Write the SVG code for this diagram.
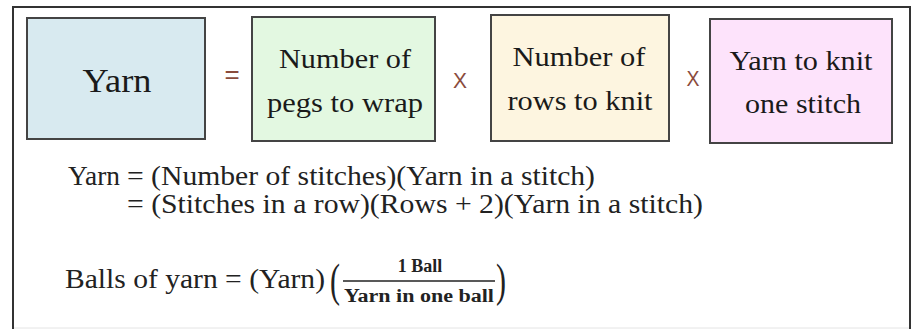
<svg xmlns="http://www.w3.org/2000/svg" width="913" height="329" viewBox="0 0 913 329">
<style>
.box{stroke:#444;stroke-width:2}
.bt{font-family:"Liberation Serif",serif;font-size:28px;fill:#1a1a1a;text-anchor:middle}
.op{font-family:"Liberation Sans",sans-serif;fill:#8a4b3c;text-anchor:middle}
.eq{font-family:"Liberation Serif",serif;font-size:27px;fill:#222}
.par{font-family:"Liberation Serif",serif;font-size:46px;fill:#222}
.fr{font-family:"Liberation Serif",serif;font-size:18px;font-weight:bold;fill:#222;text-anchor:middle}
</style>
<rect x="0" y="0" width="913" height="329" fill="#fff"/>
<g id="frame">
<path d="M13,329 V7 H910 V329" fill="none" stroke="#333" stroke-width="2"/>
<line x1="14" y1="328" x2="909" y2="328" stroke="#e4e4e4" stroke-width="1"/>
</g>
<g id="yarn">
<rect class="box" x="27" y="18" width="178" height="121" fill="#d8eaf0"/>
<text class="bt" x="117" y="92" style="font-size:34px" textLength="69" lengthAdjust="spacingAndGlyphs">Yarn</text>
</g>
<g id="pegs">
<rect class="box" x="252" y="17" width="183" height="124" fill="#e3f8e1"/>
<text class="bt" x="345" y="68" textLength="132" lengthAdjust="spacingAndGlyphs">Number of</text>
<text class="bt" x="345" y="112" textLength="156" lengthAdjust="spacingAndGlyphs">pegs to wrap</text>
</g>
<g id="rows">
<rect class="box" x="491" y="15" width="178" height="126" fill="#fdf5e0"/>
<text class="bt" x="579" y="66" textLength="133" lengthAdjust="spacingAndGlyphs">Number of</text>
<text class="bt" x="580" y="110" textLength="145" lengthAdjust="spacingAndGlyphs">rows to knit</text>
</g>
<g id="stitch">
<rect class="box" x="710" y="19" width="182" height="124" fill="#fde3fb"/>
<text class="bt" x="801" y="70" textLength="143" lengthAdjust="spacingAndGlyphs">Yarn to knit</text>
<text class="bt" x="803" y="113" textLength="116" lengthAdjust="spacingAndGlyphs">one stitch</text>
</g>
<g id="operators">
<text class="op" x="232" y="83" font-size="26">=</text>
<text class="op" x="460" y="88" font-size="22" textLength="14" lengthAdjust="spacingAndGlyphs">X</text>
<text class="op" x="693" y="86" font-size="22" textLength="13" lengthAdjust="spacingAndGlyphs">X</text>
</g>
<g id="equations">
<text class="eq" x="68" y="185" textLength="52" lengthAdjust="spacingAndGlyphs">Yarn</text>
<text class="eq" x="127" y="185" textLength="468" lengthAdjust="spacingAndGlyphs">= (Number of stitches)(Yarn in a stitch)</text>
<text class="eq" x="127" y="213" textLength="576" lengthAdjust="spacingAndGlyphs">= (Stitches in a row)(Rows + 2)(Yarn in a stitch)</text>
<text class="eq" x="65" y="288" textLength="260" lengthAdjust="spacingAndGlyphs">Balls of yarn = (Yarn)</text>
<text class="par" x="330" y="296" textLength="10" lengthAdjust="spacingAndGlyphs">(</text>
<text class="par" x="496" y="296" textLength="10" lengthAdjust="spacingAndGlyphs">)</text>
<text class="fr" x="420" y="272">1 Ball</text>
<line x1="343" y1="281" x2="495" y2="281" stroke="#222" stroke-width="1.6"/>
<text class="fr" x="419" y="302" textLength="150" lengthAdjust="spacingAndGlyphs">Yarn in one ball</text>
</g>
</svg>
